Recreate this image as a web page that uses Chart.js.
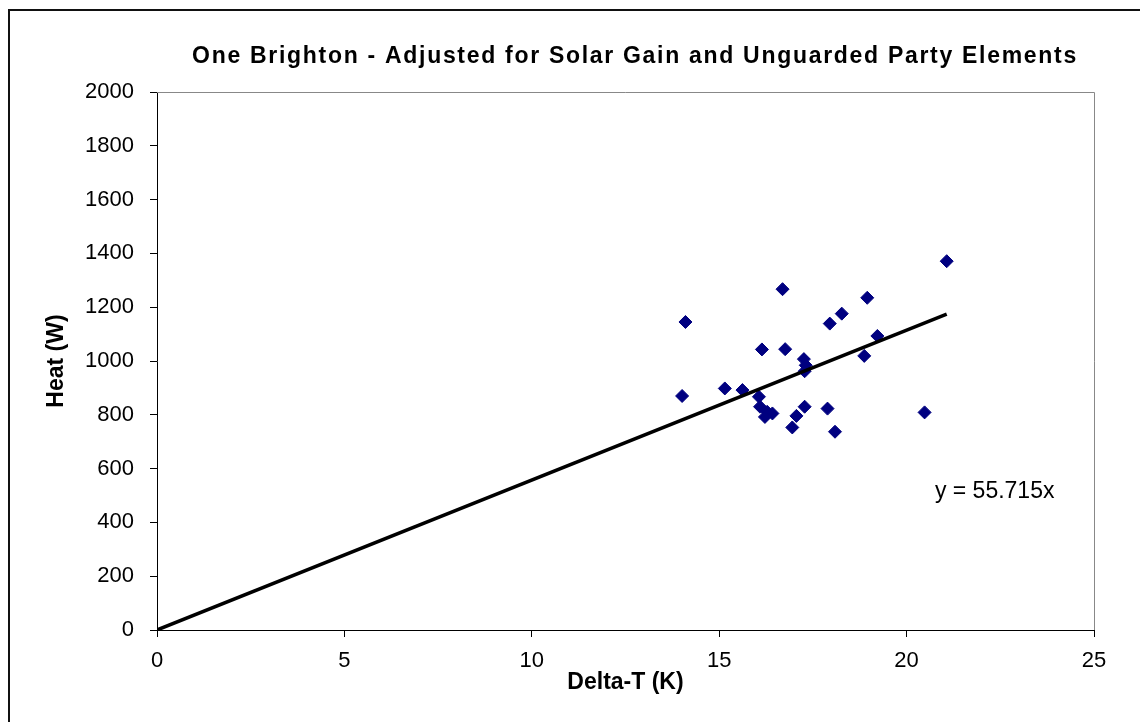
<!DOCTYPE html>
<html>
<head>
<meta charset="utf-8">
<script src="https://cdn.jsdelivr.net/npm/chart.js@4"></script>
<style>
  html, body { margin: 0; padding: 0; background: #fff; overflow: hidden; }
  #wrap { width: 1270px; height: 722px; }
</style>
</head>
<body>
<div id="wrap"><canvas id="myChart" width="1270" height="722"></canvas></div>
<script>
// measured points (Delta-T in K, heat in W)
var deltaT = [14.10, 14.01, 16.69, 15.15, 15.62, 16.14, 16.76, 16.06, 16.09, 16.22, 16.28, 16.42, 17.06, 17.28,
              16.95, 17.26, 17.31, 17.28, 17.89, 18.09, 17.95, 18.27, 18.95, 19.22, 18.87, 20.48, 21.07]
var heat = [1145, 870, 1267, 898, 892, 1043, 1044, 867, 830, 792, 811, 805, 796, 830,
            753, 1007, 984, 962, 823, 737, 1139, 1176, 1235, 1093, 1019, 809, 1371]

// trendline through origin, y = 55.715x
var trendX = [0, 21.07]
var trendY = [0, 1174]
var trendLabel = "y = 55.715x"

var xTicks = [0, 5, 10, 15, 20, 25]
var yTicks = [0, 200, 400, 600, 800, 1000, 1200, 1400, 1600, 1800, 2000]

var font = "Arial, 'Liberation Sans', sans-serif"

function toPoints(xs, ys) {
    var pts = []
    for (var i = 0; i < xs.length; i++) pts.push({ x: xs[i], y: ys[i] })
    return pts
}

var frame = {
    id: 'frame',
    beforeDraw: function (chart) {
        var ctx = chart.ctx
        ctx.fillStyle = '#fff'
        ctx.fillRect(0, 0, chart.width, chart.height)
        // the title is wider spaced in the original; axis text is drawn later (z: 1)
        ctx.letterSpacing = '1.7px'
    },
    beforeDatasetsDraw: function (chart) {
        chart.ctx.letterSpacing = '0px'
    },
    afterDraw: function (chart) {
        var ctx = chart.ctx
        var a = chart.chartArea
        ctx.save()
        ctx.letterSpacing = '0px'
        // outer chart border
        ctx.strokeStyle = '#111'
        ctx.lineWidth = 2
        ctx.strokeRect(9, 10, 1250, 760)
        // grey top and right edge of the plot area
        ctx.strokeStyle = '#888'
        ctx.lineWidth = 1
        ctx.beginPath()
        ctx.moveTo(a.left, a.top + 0.5)
        ctx.lineTo(a.right + 0.5, a.top + 0.5)
        ctx.lineTo(a.right + 0.5, a.bottom)
        ctx.stroke()
        // trendline equation
        var xs = chart.scales.x, ys = chart.scales.y
        ctx.fillStyle = '#000'
        ctx.font = "23px " + font
        ctx.textAlign = 'center'
        ctx.textBaseline = 'middle'
        ctx.fillText(trendLabel, xs.getPixelForValue(22.35), ys.getPixelForValue(514))
        ctx.restore()
    }
}

function plain(v) { return String(v) }

var chart = new Chart("myChart", {
    type: "scatter",
    data: {
        datasets: [{
            label: "Trend",
            data: toPoints(trendX, trendY),
            showLine: true,
            borderColor: "#000",
            borderWidth: 3.5,
            pointRadius: 0,
            order: 0
        }, {
            label: "Heat",
            data: toPoints(deltaT, heat),
            pointStyle: "rectRot",
            pointRadius: 6.5,
            backgroundColor: "#000080",
            borderColor: "#000080",
            borderWidth: 1,
            order: 1
        }]
    },
    plugins: [frame],
    options: {
        responsive: false,
        animation: false,
        devicePixelRatio: 1,
        layout: { padding: 0 },
        plugins: {
            legend: { display: false },
            tooltip: { enabled: false },
            title: {
                display: true,
                text: "One Brighton - Adjusted for Solar Gain and Unguarded Party Elements",
                color: "#000",
                font: { family: font, size: 23, weight: "bold" },
                padding: { top: 43, bottom: 21.4 }
            }
        },
        scales: {
            x: {
                type: "linear",
                min: 0,
                max: 25,
                afterBuildTicks: function (s) { s.ticks = xTicks.map(function (v) { return { value: v } }) },
                afterFit: function (s) { s.height = 92 },
                grid: { z: 1, drawOnChartArea: false, drawTicks: true, tickLength: 7, color: "#000" },
                border: { z: 1, color: "#000", width: 1 },
                ticks: { z: 1, color: "#000", padding: 11, font: { family: font, size: 22 }, callback: plain },
                title: {
                    display: true,
                    text: "Delta-T (K)",
                    color: "#000",
                    font: { family: font, size: 23, weight: "bold" },
                    padding: { top: 0, bottom: 25.5 }
                }
            },
            y: {
                type: "linear",
                min: 0,
                max: 2000,
                afterBuildTicks: function (s) { s.ticks = yTicks.map(function (v) { return { value: v } }) },
                afterFit: function (s) { s.width = 157 },
                grid: { z: 1, drawOnChartArea: false, drawTicks: true, tickLength: 7, color: "#000" },
                border: { z: 1, color: "#000", width: 1 },
                ticks: { z: 1, color: "#000", padding: 16, font: { family: font, size: 22 }, callback: plain },
                title: {
                    display: true,
                    text: "Heat (W)",
                    color: "#000",
                    font: { family: font, size: 23, weight: "bold" },
                    padding: { top: 43, bottom: 0 }
                }
            },
            // empty right-hand box: the chart runs past the window edge
            pad: {
                type: "linear",
                position: "right",
                grid: { display: false },
                border: { display: false },
                ticks: { display: false },
                afterFit: function (s) { s.width = 176 }
            }
        }
    }
});
</script>
</body>
</html>
